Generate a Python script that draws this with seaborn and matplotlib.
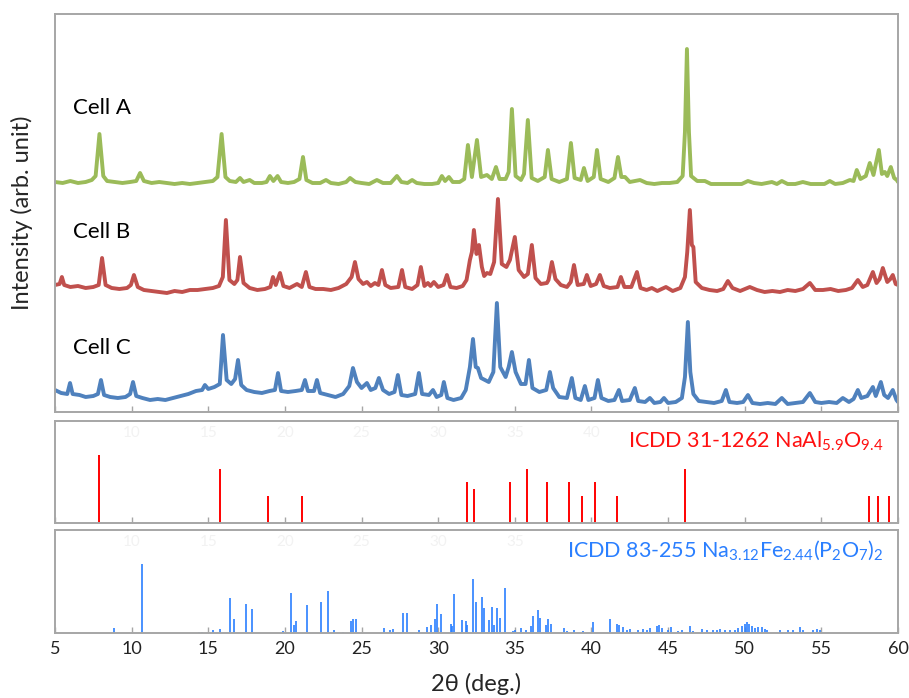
import matplotlib
matplotlib.use("Agg")
import matplotlib.pyplot as plt
import seaborn as sns
import pandas as pd

# ---------------- data ----------------
# measured XRD patterns: (2theta, intensity a.u.)
cell_a = [(5.0,30),(5.5,29),(6.0,31),(6.5,29),(7.0,30),(7.4,32),(7.65,36),(7.9,78),(8.15,36),(8.4,31),(8.9,30),(9.4,29),(9.9,30),(10.3,31),(10.55,39),(10.8,31),(11.3,29),(11.8,30),(12.3,29),(12.8,28),(13.3,29),(13.8,28),(14.3,29),(14.8,30),(15.3,31),(15.6,35),(15.87,78),(16.12,35),(16.4,31),(16.8,30),(17.07,34),(17.3,30),(17.7,32),(18.0,29),(18.5,29),(18.8,30),(19.02,36),(19.25,31),(19.52,36),(19.75,30),(20.2,29),(20.6,30),(20.95,33),(21.18,55),(21.4,32),(21.8,29),(22.3,29),(22.68,32),(23.0,29),(23.5,28),(24.0,30),(24.25,34),(24.6,30),(25.0,29),(25.5,28),(26.0,32),(26.4,29),(26.9,29),(27.31,36),(27.6,30),(28.0,29),(28.3,32),(28.6,29),(29.1,28),(29.6,28),(30.0,29),(30.24,36),(30.45,31),(30.7,35),(30.95,30),(31.4,30),(31.7,33),(31.94,67),(32.2,35),(32.53,72),(32.8,35),(33.18,37),(33.5,33),(33.77,45),(34.0,33),(34.4,33),(34.6,40),(34.81,103),(35.05,36),(35.4,32),(35.6,38),(35.85,92),(36.1,34),(36.5,31),(36.95,35),(37.16,62),(37.4,33),(37.9,30),(38.4,33),(38.66,69),(38.9,34),(39.3,32),(39.51,44),(39.75,31),(40.15,35),(40.36,62),(40.6,33),(41.1,30),(41.5,34),(41.73,55),(41.95,35),(42.19,35),(42.5,30),(43.17,32),(43.6,29),(44.1,28),(44.6,29),(45.1,29),(45.6,30),(45.95,36),(46.1,80),(46.23,163),(46.36,80),(46.5,36),(46.9,31),(47.4,31),(47.8,28),(48.3,28),(48.8,28),(49.3,28),(49.8,28),(50.21,31),(50.6,29),(51.1,28),(51.77,30),(52.1,28),(52.42,31),(52.8,28),(53.3,28),(53.79,30),(54.3,28),(54.8,28),(55.2,28),(55.55,31),(55.9,28),(56.4,29),(56.86,32),(57.1,31),(57.31,42),(57.55,33),(57.9,36),(58.16,49),(58.4,37),(58.75,62),(58.95,38),(59.14,40),(59.3,36),(59.53,45),(59.75,34),(59.92,32),(60.0,30)]

cell_b = [(5.0,27),(5.3,28),(5.45,35),(5.6,27),(6.0,25),(6.5,26),(7.0,24),(7.5,25),(7.85,27),(8.07,54),(8.3,27),(8.7,24),(9.2,23),(9.7,24),(9.95,27),(10.15,37),(10.4,25),(10.8,22),(11.3,21),(11.8,20),(12.3,19),(12.8,21),(13.3,20),(13.8,22),(14.3,22),(14.8,23),(15.3,24),(15.7,26),(15.95,35),(16.15,92),(16.38,32),(16.7,28),(16.9,32),(17.07,55),(17.3,29),(17.7,24),(18.2,22),(18.7,23),(19.05,25),(19.22,35),(19.4,27),(19.68,39),(19.9,26),(20.3,24),(20.79,28),(21.1,25),(21.37,40),(21.6,25),(22.0,23),(22.5,23),(23.0,22),(23.5,24),(24.0,28),(24.35,35),(24.57,50),(24.8,33),(25.1,28),(25.35,30),(25.6,26),(25.87,29),(26.1,27),(26.33,42),(26.55,27),(26.9,24),(27.4,25),(27.64,42),(27.85,25),(28.3,23),(28.65,27),(28.87,45),(29.1,26),(29.33,29),(29.5,26),(29.72,30),(30.0,25),(30.35,27),(30.57,37),(30.8,25),(31.2,24),(31.6,26),(31.85,32),(32.07,52),(32.2,60),(32.33,82),(32.5,58),(32.66,67),(32.85,45),(33.0,36),(33.18,39),(33.4,38),(33.65,50),(33.9,113),(34.15,48),(34.45,45),(34.68,52),(35.0,75),(35.25,42),(35.6,35),(35.85,38),(36.11,67),(36.35,34),(36.7,28),(37.09,29),(37.2,32),(37.42,50),(37.65,33),(38.0,27),(38.4,25),(38.65,30),(38.86,47),(39.1,27),(39.5,28),(39.7,37),(39.95,26),(40.3,28),(40.55,37),(40.8,26),(41.2,24),(41.7,25),(41.92,35),(42.15,25),(42.6,25),(42.97,40),(43.2,24),(43.6,22),(43.94,24),(44.3,21),(44.86,25),(45.3,21),(45.8,24),(46.1,35),(46.25,60),(46.42,102),(46.55,67),(46.65,65),(46.8,30),(47.2,24),(47.7,22),(48.2,21),(48.6,23),(48.9,31),(49.2,24),(49.7,21),(50.33,25),(50.8,22),(51.3,20),(51.8,21),(52.3,20),(52.8,22),(53.3,21),(53.8,23),(54.25,29),(54.6,22),(55.1,22),(55.6,23),(56.1,21),(56.6,22),(57.0,24),(57.38,32),(57.7,25),(58.0,27),(58.36,40),(58.6,29),(58.8,33),(59.01,44),(59.3,30),(59.5,33),(59.66,37),(59.85,28),(60.0,27)]

cell_c = [(5.0,22),(5.4,19),(5.8,18),(5.98,29),(6.15,18),(6.6,17),(7.0,15),(7.5,16),(7.8,18),(8.0,32),(8.2,17),(8.6,15),(9.1,14),(9.6,15),(9.9,18),(10.09,30),(10.3,16),(10.7,14),(11.2,12),(11.7,13),(12.2,12),(12.7,14),(13.2,16),(13.7,18),(14.2,21),(14.6,22),(14.78,27),(15.0,23),(15.4,25),(15.75,28),(15.96,77),(16.2,32),(16.5,28),(16.75,33),(16.94,52),(17.15,27),(17.5,22),(18.0,20),(18.5,19),(19.0,21),(19.35,22),(19.55,39),(19.75,21),(20.2,20),(20.7,21),(21.1,22),(21.31,32),(21.5,21),(21.9,21),(22.09,32),(22.3,19),(22.8,17),(23.3,15),(23.8,18),(24.2,26),(24.44,44),(24.7,30),(25.0,24),(25.35,29),(25.6,22),(25.9,24),(26.13,34),(26.4,22),(26.8,18),(27.15,20),(27.37,37),(27.6,17),(28.0,16),(28.5,18),(28.74,39),(28.95,18),(29.4,17),(29.66,22),(29.9,15),(30.2,17),(30.37,30),(30.6,14),(31.0,12),(31.5,14),(31.8,22),(32.07,45),(32.27,73),(32.45,45),(32.59,44),(32.8,34),(33.05,32),(33.3,30),(33.6,40),(33.83,109),(34.05,45),(34.4,35),(34.6,45),(34.81,60),(35.05,40),(35.4,28),(35.7,28),(35.92,52),(36.15,24),(36.6,20),(37.05,22),(37.29,40),(37.5,24),(37.9,15),(38.4,14),(38.72,34),(38.95,14),(39.3,12),(39.57,26),(39.8,12),(40.2,14),(40.42,32),(40.65,14),(41.1,11),(41.5,12),(41.79,22),(42.0,11),(42.5,12),(42.83,24),(43.05,11),(43.5,10),(43.81,14),(44.1,9),(44.5,10),(44.73,14),(45.0,9),(45.5,10),(45.9,14),(46.1,35),(46.29,90),(46.45,40),(46.65,18),(47.0,11),(47.5,10),(48.0,9),(48.5,11),(48.77,22),(49.0,10),(49.5,9),(49.9,10),(50.21,17),(50.5,9),(51.0,8),(51.5,9),(52.0,8),(52.42,14),(52.8,8),(53.3,9),(53.8,10),(54.25,19),(54.6,10),(55.0,9),(55.5,10),(56.0,9),(56.4,14),(56.8,10),(57.1,13),(57.38,22),(57.6,14),(58.0,16),(58.36,25),(58.55,16),(58.88,30),(59.1,17),(59.35,14),(59.66,22),(59.9,12),(60.0,10)]

cell_names = ["Cell A", "Cell B", "Cell C"]
cell_offsets = [200, 100, 0]

# reference stick patterns (2theta, relative intensity)
icdd_nal_pos = [7.87,15.76,18.89,21.11,31.87,32.33,34.68,35.79,37.09,38.53,39.38,40.22,41.66,46.10,58.10,58.69,59.40]
icdd_nal_int = [100,80,40,40,60,50,60,80,60,60,40,60,40,80,40,40,40]

icdd_nfp_pos = [8.85,10.68,14.4,14.6,15.31,15.76,16.42,16.68,17.46,17.85,19.87,20.39,20.59,20.72,21.44,22.35,22.81,23.2,23.79,24.31,24.44,24.63,26.46,26.85,27.05,27.7,27.96,28.74,29.27,29.53,29.79,29.92,30.18,30.83,30.9,31.03,31.55,31.81,31.88,32.27,32.46,32.85,32.98,33.31,33.51,33.64,33.83,34.03,34.35,34.88,35.01,35.4,35.72,36.05,36.18,36.51,36.64,37.03,37.16,37.36,38.2,38.4,38.86,39.44,40.1,41.2,41.66,41.79,42.05,42.31,42.51,43.03,43.36,43.62,43.81,44.27,44.4,44.6,44.99,45.18,45.64,45.9,46.42,46.62,47.2,47.53,47.92,48.18,48.38,48.71,49.03,49.36,49.55,49.81,50.01,50.14,50.27,50.47,50.66,50.86,51.12,51.31,51.44,52.29,52.81,53.14,53.6,53.79,54.45,54.71,54.9]
icdd_nfp_int = [7,100,2,2,4,6,51,20,42,35,3,58,12,17,41,45,61,4,2,17,20,20,7,4,6,29,29,4,9,12,20,42,28,13,10,57,19,17,12,78,45,52,36,19,38,12,36,22,65,3,4,7,4,10,25,33,22,12,20,13,7,3,4,3,16,20,13,12,9,4,6,4,6,4,7,10,12,7,4,9,3,4,10,3,6,4,4,4,6,4,4,4,7,10,13,16,13,10,7,9,9,6,4,4,4,4,9,4,4,6,4]

nal_label = r"ICDD 31-1262 NaAl$_{5.9}$O$_{9.4}$"
nfp_label = r"ICDD 83-255 Na$_{3.12}$Fe$_{2.44}$(P$_{2}$O$_{7}$)$_{2}$"
x_ticks = [5, 10, 15, 20, 25, 30, 35, 40, 45, 50, 55, 60]
ghost_ticks_mid = [10, 15, 20, 25, 30, 35, 40]
ghost_ticks_bot = [10, 15, 20, 25, 30, 35]

# ---------------- style ----------------
sns.set_style("white")
plt.rcParams["font.family"] = ["Lato", "DejaVu Sans"]
plt.rcParams["mathtext.default"] = "regular"

line_colors = ["#9BBB59", "#C0504D", "#4F81BD"]
frame_col = "#a6a6a6"

rows = []
for name, off, pts in zip(cell_names, cell_offsets, [cell_a, cell_b, cell_c]):
    for tt, inten in pts:
        rows.append({"two_theta": tt, "intensity": inten, "shifted": inten + off, "cell": name})
df = pd.DataFrame(rows)

W, H = 909, 698
fig = plt.figure(figsize=(W / 100, H / 100), dpi=100)

def ax_at(top_px, bot_px):
    l, r = 55, 898
    return fig.add_axes([l / W, 1 - bot_px / H, (r - l) / W, (bot_px - top_px) / H])

ax1 = ax_at(14, 412)
ax2 = ax_at(421, 523)
ax3 = ax_at(530, 633)

sns.lineplot(data=df, x="two_theta", y="shifted", hue="cell", palette=line_colors,
             estimator=None, legend=False, linewidth=2.8, ax=ax1)
ax1.set_ylim(0, 398)

label_y = [304, 180, 64]
for name, yy in zip(cell_names, label_y):
    ax1.text(6.15, yy, name, fontsize=16, color="black", va="center", ha="left")

ax2.vlines(icdd_nal_pos, 0, icdd_nal_int, color="#FF0000", linewidth=1.4)
ax2.set_ylim(0, 150)
ax2.text(0.983, 0.80, nal_label, transform=ax2.transAxes, ha="right", va="center",
         fontsize=15.5, color="#FF1010")

ax3.vlines(icdd_nfp_pos, 0, icdd_nfp_int, color="#2A7FFF", linewidth=1.2)
ax3.set_ylim(0, 150)
ax3.text(0.983, 0.80, nfp_label, transform=ax3.transAxes, ha="right", va="center",
         fontsize=15.5, color="#2A7FFF")

for ax in (ax1, ax2, ax3):
    ax.set_xlim(5, 60)
    ax.set_xticks(x_ticks)
    ax.set_yticks([])
    ax.set_xlabel("")
    ax.set_ylabel("")
    for s in ax.spines.values():
        s.set_color(frame_col)
        s.set_linewidth(1.4)
        s.set_visible(True)
    ax.tick_params(axis="x", direction="in", length=4, width=1, color=frame_col,
                   bottom=True, top=False, labelbottom=False)

# faint ghost labels inside the stick panels
for ax, gt in ((ax2, ghost_ticks_mid), (ax3, ghost_ticks_bot)):
    for t in gt:
        ax.text(t, 0.88, str(t), transform=ax.get_xaxis_transform(), ha="center", va="center",
                fontsize=11, color="#f2f2f2")

ax3.tick_params(axis="x", labelbottom=True, labelsize=13, labelcolor="#222222", pad=6)
ax3.set_xlabel("2θ (deg.)", fontsize=17, labelpad=11)
fig.text(22 / W, 1 - 213 / H, "Intensity (arb. unit)", rotation=90, fontsize=17,
         ha="center", va="center")

fig.savefig("out.png", dpi=100)
